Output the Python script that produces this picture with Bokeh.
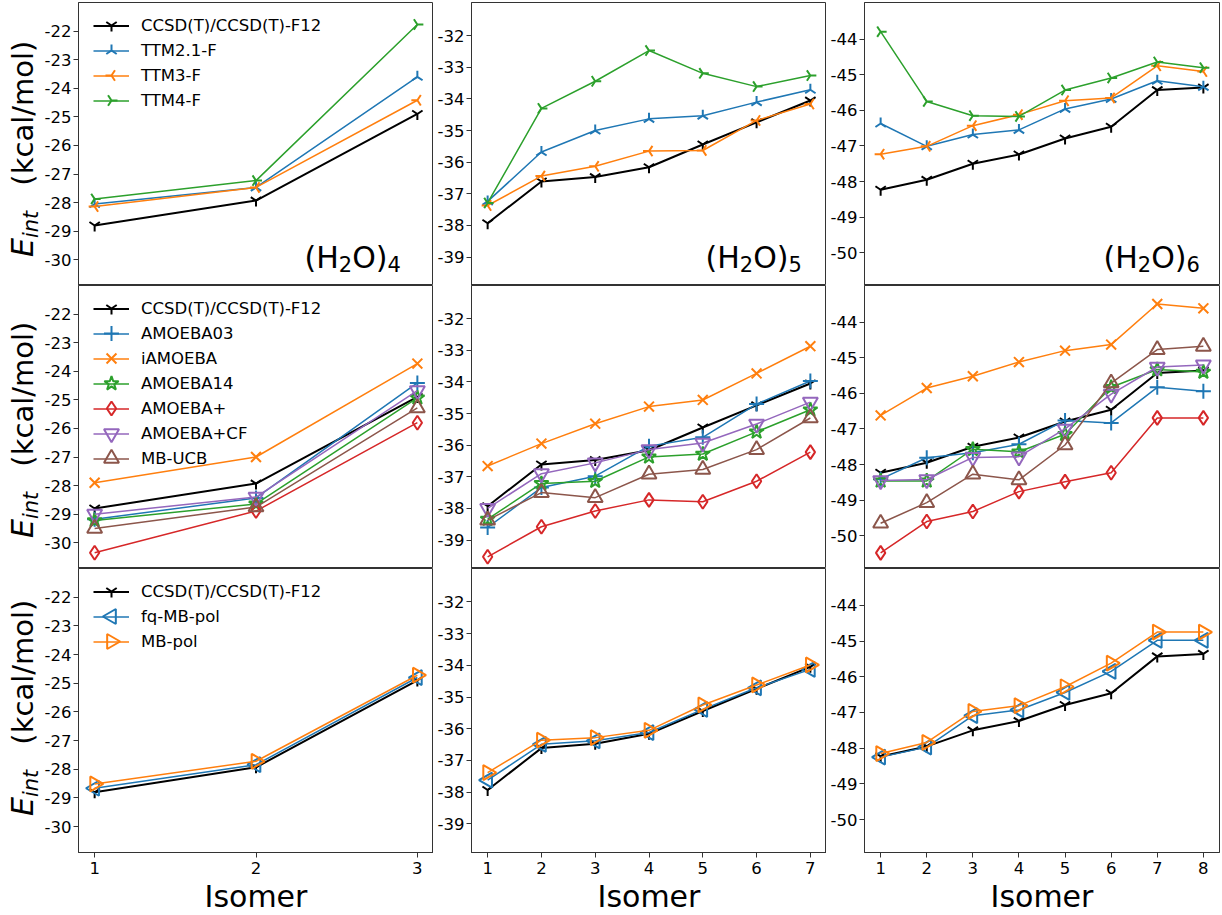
from math import pi

from bokeh.core.properties import value
from bokeh.embed import file_html
from bokeh.layouts import column, row
from bokeh.models import Div, FixedTicker, Legend, LegendItem, Range1d
from bokeh.plotting import figure
from bokeh.resources import INLINE

# ---------------------------------------------------------------------------
# Interaction energies (kcal/mol) of water tetramer, pentamer and hexamer isomers
# ---------------------------------------------------------------------------
isomers_4 = [1, 2, 3]
isomers_5 = [1, 2, 3, 4, 5, 6, 7]
isomers_6 = [1, 2, 3, 4, 5, 6, 7, 8]

# reference CCSD(T)/CCSD(T)-F12
ccsd_4 = [-28.80, -27.93, -24.90]
ccsd_5 = [-37.93, -36.61, -36.47, -36.16, -35.44, -34.74, -34.05]
ccsd_6 = [-48.23, -47.95, -47.50, -47.24, -46.79, -46.46, -45.43, -45.36]

# TTM family
ttm21_4 = [-28.05, -27.47, -23.60]
ttm21_5 = [-37.24, -35.68, -35.00, -34.63, -34.53, -34.10, -33.71]
ttm21_6 = [-46.37, -47.01, -46.68, -46.55, -45.96, -45.68, -45.17, -45.34]
ttm3_4 = [-28.14, -27.47, -24.42]
ttm3_5 = [-37.37, -36.44, -36.13, -35.65, -35.63, -34.68, -34.16]
ttm3_6 = [-47.23, -47.01, -46.43, -46.12, -45.73, -45.65, -44.75, -44.91]
ttm4_4 = [-27.87, -27.23, -21.77]
ttm4_5 = [-37.29, -34.30, -33.44, -32.47, -33.19, -33.61, -33.26]
ttm4_6 = [-43.79, -45.75, -46.15, -46.17, -45.43, -45.09, -44.64, -44.80]

# AMOEBA family and MB-UCB
amoeba03_4 = [-29.18, -28.43, -24.41]
amoeba03_5 = [-38.60, -37.34, -36.98, -36.03, -35.75, -34.70, -33.97]
amoeba03_6 = [-48.41, -47.81, -47.67, -47.43, -46.76, -46.83, -45.83, -45.94]
iamoeba_4 = [-27.90, -27.00, -23.73]
iamoeba_5 = [-36.66, -35.95, -35.32, -34.78, -34.57, -33.73, -32.87]
iamoeba_6 = [-46.62, -45.85, -45.52, -45.12, -44.80, -44.63, -43.49, -43.61]
amoeba14_4 = [-29.22, -28.64, -24.93]
amoeba14_5 = [-38.34, -37.21, -37.14, -36.37, -36.28, -35.58, -34.88]
amoeba14_6 = [-48.46, -48.46, -47.57, -47.64, -47.15, -45.83, -45.33, -45.40]
amoebap_4 = [-30.35, -28.89, -25.80]
amoebap_5 = [-39.53, -38.58, -38.08, -37.73, -37.79, -37.14, -36.22]
amoebap_6 = [-50.48, -49.60, -49.32, -48.76, -48.48, -48.23, -46.69, -46.69]
amoebacf_4 = [-29.00, -28.40, -24.68]
amoebacf_5 = [-38.00, -36.90, -36.56, -36.14, -35.93, -35.33, -34.64]
amoebacf_6 = [-48.45, -48.42, -47.80, -47.78, -47.00, -46.02, -45.26, -45.20]
mbucb_4 = [-29.50, -28.75, -25.28]
mbucb_5 = [-38.37, -37.50, -37.66, -36.92, -36.77, -36.14, -35.14]
mbucb_6 = [-49.65, -49.07, -48.27, -48.43, -47.45, -45.71, -44.77, -44.68]

# MB-pol family
fqmbpol_4 = [-28.66, -27.84, -24.80]
fqmbpol_5 = [-37.62, -36.49, -36.38, -36.12, -35.39, -34.71, -34.13]
fqmbpol_6 = [-48.25, -47.97, -47.09, -46.93, -46.44, -45.85, -44.98, -44.98]
mbpol_4 = [-28.51, -27.72, -24.72]
mbpol_5 = [-37.38, -36.36, -36.28, -36.05, -35.25, -34.62, -33.99]
mbpol_6 = [-48.15, -47.84, -46.97, -46.81, -46.28, -45.62, -44.75, -44.75]

cluster_sizes = ["4", "5", "6"]
isomer_ids = [isomers_4, isomers_5, isomers_6]
y_tick_values = [list(range(-30, -21)), list(range(-39, -31)), list(range(-50, -43))]

# one list of series per row of panels
row_series = [
    [
        ("CCSD(T)/CCSD(T)-F12", [ccsd_4, ccsd_5, ccsd_6], "ccsd"),
        ("TTM2.1-F", [ttm21_4, ttm21_5, ttm21_6], "ttm21"),
        ("TTM3-F", [ttm3_4, ttm3_5, ttm3_6], "ttm3"),
        ("TTM4-F", [ttm4_4, ttm4_5, ttm4_6], "ttm4"),
    ],
    [
        ("CCSD(T)/CCSD(T)-F12", [ccsd_4, ccsd_5, ccsd_6], "ccsd"),
        ("AMOEBA03", [amoeba03_4, amoeba03_5, amoeba03_6], "amoeba03"),
        ("iAMOEBA", [iamoeba_4, iamoeba_5, iamoeba_6], "iamoeba"),
        ("AMOEBA14", [amoeba14_4, amoeba14_5, amoeba14_6], "amoeba14"),
        ("AMOEBA+", [amoebap_4, amoebap_5, amoebap_6], "amoebap"),
        ("AMOEBA+CF", [amoebacf_4, amoebacf_5, amoebacf_6], "amoebacf"),
        ("MB-UCB", [mbucb_4, mbucb_5, mbucb_6], "mbucb"),
    ],
    [
        ("CCSD(T)/CCSD(T)-F12", [ccsd_4, ccsd_5, ccsd_6], "ccsd"),
        ("fq-MB-pol", [fqmbpol_4, fqmbpol_5, fqmbpol_6], "fqmbpol"),
        ("MB-pol", [mbpol_4, mbpol_5, mbpol_6], "mbpol"),
    ],
]

# ---------------------------------------------------------------------------
# Styling
# ---------------------------------------------------------------------------
FONT = "DejaVu Sans"
FRAME_COLOR = "#333333"
BLUE, ORANGE, GREEN = "#1f77b4", "#ff7f0e", "#2ca02c"
RED, PURPLE, BROWN = "#d62728", "#9467bd", "#8c564b"

STYLE = {
    "ccsd": dict(color="black", marker="y", angle=0.0, size=12, lw=2.0),
    "ttm21": dict(color=BLUE, marker="y", angle=pi, size=12, lw=1.5),
    "ttm3": dict(color=ORANGE, marker="y", angle=-pi / 2, size=12, lw=1.5),
    "ttm4": dict(color=GREEN, marker="y", angle=pi / 2, size=12, lw=1.5),
    "amoeba03": dict(color=BLUE, marker="cross", angle=0.0, size=15, lw=1.5),
    "iamoeba": dict(color=ORANGE, marker="x", angle=0.0, size=14, lw=1.5),
    "amoeba14": dict(color=GREEN, marker="star", angle=0.0, size=15, lw=1.5),
    "amoebap": dict(color=RED, marker="diamond", angle=0.0, size=14, lw=1.5),
    "amoebacf": dict(color=PURPLE, marker="inverted_triangle", angle=0.0, size=15, lw=1.5),
    "mbucb": dict(color=BROWN, marker="triangle", angle=0.0, size=15, lw=1.5),
    "fqmbpol": dict(color=BLUE, marker="triangle", angle=pi / 2, size=15, lw=1.5),
    "mbpol": dict(color=ORANGE, marker="triangle", angle=-pi / 2, size=15, lw=1.5),
}

X_LIMITS = [(0.9, 3.1), (0.7, 7.3), (0.65, 8.35)]
Y_LIMITS = [(-30.9, -21.0), (-39.9, -30.95), (-50.92, -42.97)]
FRAME_W = 355
FRAME_H = [283, 283, 284]
BORDER_TOP = [2, 0, 0]
BORDER_BOTTOM = [0, 0, 63]
LABEL_STRIP_W = 40                # strip left of the first column holding the y title
BORDER_LEFT = [38, 38, 38]
BORDER_RIGHT = [0, 0, 2]
YLABEL_START = [28, 30, 36]       # px above frame bottom where "E" starts
NAME_LEFT = [226, 234, 239]       # px right of frame left for the cluster name
NAME_BASE = 28                    # px above frame bottom for the cluster name baseline
LEGEND_LEFT, LEGEND_TOP, LEGEND_ROW = 15, 23, 25
LEGEND_GLYPH_W, LEGEND_STANDOFF = 36, 12
TICK_FONT = "16.5px"


def style_axis(ax, ticks):
    ax.ticker = FixedTicker(ticks=ticks)
    ax.major_label_overrides = {t: str(t) for t in ticks}
    ax.major_tick_out = 5
    ax.major_tick_in = 0
    ax.minor_tick_out = 0
    ax.minor_tick_in = 0
    ax.major_label_standoff = 2
    ax.major_label_text_font = FONT
    ax.major_label_text_font_size = TICK_FONT
    ax.major_label_text_color = "black"
    ax.axis_line_color = FRAME_COLOR
    ax.major_tick_line_color = FRAME_COLOR


def draw_text(p, x, y, txt, size, style="normal", angle=0.0, **kw):
    p.text(
        x=[x], y=[y], text=[txt], angle=angle,
        text_font=value(FONT), text_font_size=value(size),
        text_font_style=value(style), text_color="black",
        text_align=value("left"), text_baseline=value("alphabetic"), **kw,
    )


def make_ylabel(r):
    """Rotated E_int (kcal/mol) title shown left of the first column."""
    h = FRAME_H[r]
    total_h = BORDER_TOP[r] + h + BORDER_BOTTOM[r]
    html = (
        f'<div style="position:relative; width:{LABEL_STRIP_W}px; height:{total_h}px;">'
        f'<div style="position:absolute; left:0px; top:{BORDER_TOP[r]}px; '
        f'width:{h}px; height:{LABEL_STRIP_W}px; box-sizing:border-box; '
        f'padding-left:{YLABEL_START[r]}px; transform-origin:0 0; '
        f'transform:translate(0px, {h}px) rotate(-90deg); '
        f"font-family:'{FONT}'; font-size:29px; line-height:46px; "
        'white-space:nowrap; color:black; text-align:left;">'
        '<i style="font-size:30px;">E</i>'
        '<i style="font-size:21px; position:relative; top:5px;">int</i>'
        '<span style="margin-left:25px;">(kcal/mol)</span>'
        '</div></div>'
    )
    return Div(text=html, width=LABEL_STRIP_W, height=total_h, margin=0,
               styles={"overflow": "visible"})


def add_cluster_name(p, c, r):
    # pixel coordinates measured from the frame's top-left corner
    left = NAME_LEFT[c]
    base = FRAME_H[r] - NAME_BASE
    px = dict(x_range_name="px", y_range_name="px")
    draw_text(p, left, base, "(H", "30px", **px)
    draw_text(p, left + 34.3, base + 6, "2", "21px", **px)
    draw_text(p, left + 47.7, base, "O)", "30px", **px)
    draw_text(p, left + 83.0, base + 6, cluster_sizes[c], "21px", **px)


def make_panel(r, c):
    bottom = r == 2
    p = figure(
        frame_width=FRAME_W, frame_height=FRAME_H[r],
        x_range=Range1d(*X_LIMITS[c]), y_range=Range1d(*Y_LIMITS[c]),
        x_axis_location="below" if bottom else None,
        output_backend="svg", toolbar_location=None,
        min_border_left=BORDER_LEFT[c], min_border_right=BORDER_RIGHT[c],
        min_border_top=BORDER_TOP[r], min_border_bottom=BORDER_BOTTOM[r],
        background_fill_color="white", border_fill_color="white",
        outline_line_color=FRAME_COLOR, outline_line_width=1,
    )
    p.grid.visible = False
    # pixel coordinate system (origin at the frame's top-left) for keys and names
    p.extra_x_ranges = {"px": Range1d(0, FRAME_W)}
    p.extra_y_ranges = {"px": Range1d(FRAME_H[r], 0)}

    style_axis(p.yaxis[0], y_tick_values[c])

    if bottom:
        xax = p.xaxis[0]
        style_axis(xax, isomer_ids[c])
        xax.major_label_standoff = 4
        xax.axis_label = "Isomer"
        xax.axis_label_text_font = FONT
        xax.axis_label_text_font_size = "30px"
        xax.axis_label_text_font_style = "normal"
        xax.axis_label_text_color = "black"
        xax.axis_label_standoff = 2

    items = []
    for name, values, key in row_series[r]:
        st = STYLE[key]
        xs = isomer_ids[c]
        ys = values[c]
        ln = p.line(xs, ys, line_color=st["color"], line_width=st["lw"])
        p.scatter(
            xs, ys, marker=st["marker"], size=st["size"], angle=st["angle"],
            line_color=st["color"], fill_color=None, line_width=2,
        )
        items.append((name, key, ln))

    if c == 0:
        # legend: line keys and labels from the Legend model, rotated marker keys on top
        n = len(items)
        legend = Legend(
            items=[LegendItem(label=name, renderers=[ln]) for name, _, ln in items],
            location=(LEGEND_LEFT, FRAME_H[r] - (LEGEND_TOP - LEGEND_ROW / 2) - LEGEND_ROW * n),
            padding=0, margin=0, spacing=0,
            glyph_width=LEGEND_GLYPH_W, glyph_height=LEGEND_ROW, label_height=LEGEND_ROW,
            label_standoff=LEGEND_STANDOFF,
            label_text_font=FONT, label_text_font_size="16.5px",
            label_text_color="black",
            background_fill_alpha=0, border_line_alpha=0,
        )
        p.add_layout(legend)
        for i, (_, key, _) in enumerate(items):
            st = STYLE[key]
            p.scatter(
                [LEGEND_LEFT + LEGEND_GLYPH_W / 2], [LEGEND_TOP + LEGEND_ROW * i],
                x_range_name="px", y_range_name="px", level="overlay",
                marker=st["marker"], size=st["size"], angle=st["angle"],
                line_color=st["color"], fill_color=None, line_width=2,
            )

    if r == 0:
        add_cluster_name(p, c, r)

    return p


layout = column(
    [row([make_ylabel(r)] + [make_panel(r, c) for c in range(3)], spacing=0) for r in range(3)],
    spacing=0,
)

open("out.html", "w").write(file_html(layout, INLINE, title="Water cluster interaction energies"))
